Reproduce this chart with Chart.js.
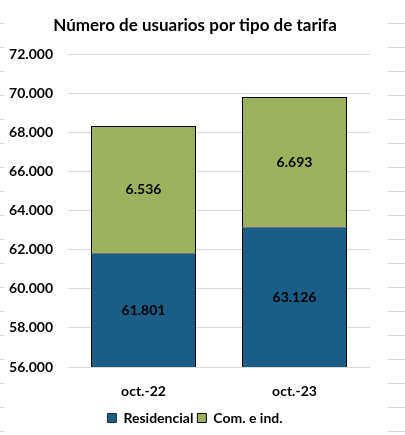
<!DOCTYPE html>
<html>
<head>
<meta charset="utf-8">
<script src="https://cdn.jsdelivr.net/npm/chart.js@4"></script>
<style>
  html, body { margin: 0; padding: 0; }
  body {
    width: 405px; height: 435px; overflow: hidden;
    background: repeating-linear-gradient(to bottom, #fff 0px, #fff 23px, #d4d4d4 23px, #d4d4d4 24px);
  }
  #caja { position: absolute; left: 4px; top: 0; width: 384px; height: 435px; background: #fff; }
</style>
</head>
<body>
<div id="caja"><canvas id="usuarios" width="384" height="435"></canvas></div>
<script>
// datos del grafico
var periodos = ['oct.-22', 'oct.-23'];
var residencial = [61801, 63126];
var comercial = [6536, 6693];
var ticksY = [56000, 58000, 60000, 62000, 64000, 66000, 68000, 70000, 72000];

function miles(v) {
  return String(Math.round(v)).replace(/\B(?=(\d{3})+(?!\d))/g, '.');
}

var fuente = 'Lato, "Open Sans", sans-serif';

// etiquetas dentro de las barras
var etiquetas = {
  id: 'etiquetas',
  afterDatasetsDraw: function (chart) {
    var ctx = chart.ctx;
    ctx.save();
    ctx.fillStyle = '#000';
    ctx.font = 'bold 14px ' + fuente;
    ctx.textAlign = 'center';
    ctx.textBaseline = 'middle';
    chart.data.datasets.forEach(function (ds, i) {
      chart.getDatasetMeta(i).data.forEach(function (bar, j) {
        var top = Math.max(bar.y, chart.chartArea.top);
        var bottom = Math.min(bar.base, chart.chartArea.bottom);
        ctx.fillText(miles(ds.data[j]), bar.x, (top + bottom) / 2);
      });
    });
    ctx.restore();
  }
};

var ctx = document.getElementById('usuarios').getContext('2d');
var grafico = new Chart(ctx, {
  type: 'bar',
  data: {
    labels: periodos,
    datasets: [
      {
        label: 'Residencial',
        data: residencial,
        backgroundColor: '#1a5e87',
        borderColor: '#000',
        borderWidth: { top: 0, left: 1, right: 1, bottom: 1 },
        borderSkipped: false,
        inflateAmount: 0
      },
      {
        label: 'Com. e ind.',
        data: comercial,
        backgroundColor: '#9bb15e',
        borderColor: '#000',
        borderWidth: 1,
        borderSkipped: false,
        inflateAmount: 0
      }
    ]
  },
  options: {
    responsive: false,
    animation: false,
    layout: { padding: { left: 4, right: 6, top: 8, bottom: 0 } },
    datasets: { bar: { barPercentage: 105 / 151, categoryPercentage: 1 } },
    scales: {
      x: {
        stacked: true,
        grid: { display: false },
        border: { display: false },
        afterFit: function (axis) { axis.height = 40; },
        ticks: { color: '#000', font: { family: fuente, size: 14, weight: 'bold' }, padding: 8 }
      },
      y: {
        stacked: true,
        min: 56000,
        max: 72000,
        afterFit: function (axis) { axis.width = 60; },
        afterBuildTicks: function (axis) {
          axis.ticks = ticksY.map(function (v) { return { value: v }; });
        },
        grid: { color: '#d9d9d9', drawTicks: false },
        border: { display: false },
        ticks: {
          color: '#000',
          padding: 15,
          font: { family: fuente, size: 14, weight: 'bold' },
          callback: function (v) { return miles(v); }
        }
      },
      // margen derecho vacio para centrar titulo y leyenda
      margen: {
        type: 'linear',
        position: 'right',
        grid: { display: false },
        border: { display: false },
        ticks: { display: false },
        afterFit: function (axis) { axis.width = 12; }
      }
    },
    plugins: {
      title: {
        display: true,
        text: 'Número de usuarios por tipo de tarifa',
        color: '#000',
        font: { family: fuente, size: 17, weight: 'bold' },
        padding: { top: 7, bottom: 19 }
      },
      legend: {
        position: 'bottom',
        labels: {
          color: '#000',
          boxWidth: 9,
          boxHeight: 9,
          padding: 4,
          font: { family: fuente, size: 14, weight: 'bold' }
        }
      },
      tooltip: { enabled: false }
    }
  },
  plugins: [etiquetas]
});
</script>
</body>
</html>
